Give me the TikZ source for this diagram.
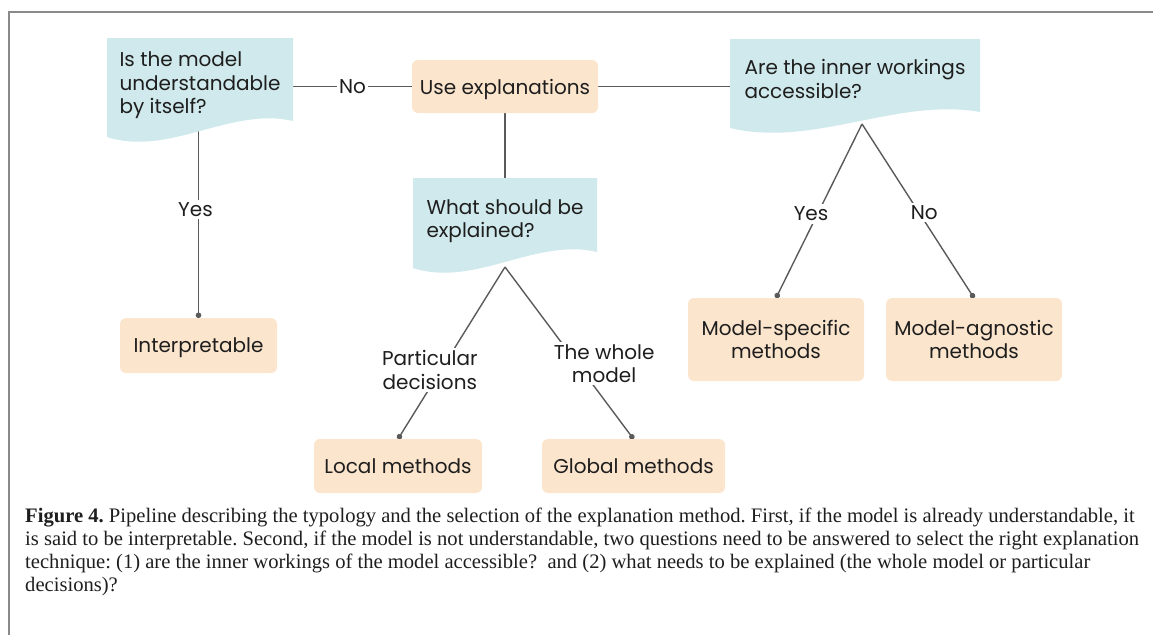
\documentclass[tikz,border=0pt]{standalone}
\usepackage{fontspec}
\setmainfont{Liberation Serif}
\newfontfamily\diagfont{Poppins}
\usetikzlibrary{arrows.meta,calc}
\pgfdeclarelayer{edgelayer}
\pgfdeclarelayer{doclayer}
\pgfsetlayers{edgelayer,doclayer,main}
\definecolor{docblue}{HTML}{D0E9EC}
\definecolor{boxorange}{HTML}{FCE5CD}
\definecolor{linegray}{HTML}{5A5A5A}
\definecolor{inkdark}{HTML}{1E1E1E}
\definecolor{framegray}{HTML}{8A8A8A}

\tikzset{
  diagtext/.style={font=\diagfont\fontsize{20}{23.5}\selectfont, text=inkdark},
  % ignore descenders of the last line when centring box text
  qbox/.style={diagtext, text depth=0pt, align=left, outer sep=0pt, inner sep=0pt},
  ebox/.style={diagtext, text depth=0pt, fill=boxorange, rounded corners=6pt, align=center, outer sep=0pt, inner sep=0pt},
  conn/.style={draw=linegray, line width=1.4pt},
  dotend/.style={-{Circle[length=5.5pt]}},
  lbl/.style={diagtext, fill=white, inner sep=2.5pt, align=center},
  captext/.style={font=\fontsize{20.6}{24}\selectfont\frenchspacing, text=inkdark, anchor=base west, inner sep=0pt},
}

% wavy-bottomed "document" backdrop behind a question node
\newcommand\docback[1]{%
  \begin{pgfonlayer}{doclayer}
    \fill[docblue] let \p1=(#1.north west), \p2=(#1.south east) in
      (\x1,\y1) -- (\x2,\y1) -- (\x2,{\y2+7pt})
      .. controls ({\x1+0.6667*(\x2-\x1)},{\y2+21.67pt}) and ({\x1+0.3333*(\x2-\x1)},{\y2-29pt}) .. (\x1,{\y2-9pt}) -- cycle;
  \end{pgfonlayer}}

\begin{document}
\begin{tikzpicture}[x=1pt,y=-1pt]
  \useasboundingbox (0,0) rectangle (1153,635);

  % outer frame
  \draw[framegray, line width=1.5pt] (9,635) -- (9,12) -- (1153,12);

  % question nodes
  \node[qbox, minimum width=186pt, minimum height=90pt] (q1) at (200,83) {Is the model\\understandable\\by itself?};
  \node[qbox, minimum width=250pt, minimum height=80pt] (q2) at (855,79) {Are the inner workings\\accessible?};
  \node[qbox, minimum width=184pt, minimum height=81pt] (q3) at (505,218.5) {What should be\\explained?};
  \docback{q1}
  \docback{q2}
  \docback{q3}

  % result / action boxes
  \node[ebox, minimum width=186pt, minimum height=53pt] (use) at (505,86.5) {Use explanations};
  \node[ebox, minimum width=157pt, minimum height=55pt] (interp) at (198.5,345.5) {Interpretable};
  \node[ebox, minimum width=168pt, minimum height=54pt] (local) at (398,466) {Local methods};
  \node[ebox, minimum width=183pt, minimum height=54pt] (global) at (633.5,466) {Global methods};
  \node[ebox, minimum width=176pt, minimum height=83pt] (mspec) at (776,339.5) {Model-specific\\methods};
  \node[ebox, minimum width=176pt, minimum height=83pt] (magn) at (974,339.5) {Model-agnostic\\methods};

  % branching points under the wavy shapes
  \coordinate (q3tip) at ([yshift=-8pt]q3.south);
  \coordinate (q2tip) at ([xshift=7pt,yshift=-5pt]q2.south);

  % connectors
  \begin{pgfonlayer}{edgelayer}
    \draw[conn] (use.west -| q1.east) -- node[lbl]{No} (use.west);
    \draw[conn] (use.east) -- (use.east -| q2.west);
    \draw[conn] (use.south) -- (q3.north);
    \draw[conn, dotend] (interp.north |- q1.south) -- node[lbl, pos=0.43, xshift=-3pt]{Yes} (interp.north);
    \draw[conn, dotend] (q3tip) -- node[lbl, pos=0.6, xshift=-11pt]{Particular\\decisions} (local.north);
    \draw[conn, dotend] (q3tip) -- node[lbl, pos=0.561, xshift=27pt]{The whole\\model} (global.north);
    \draw[conn, dotend] (q2tip) -- node[lbl, pos=0.517, xshift=-6.5pt]{Yes} (mspec.north);
    \draw[conn, dotend] (q2tip) -- node[lbl, pos=0.511, xshift=5pt]{No} (magn.north);
  \end{pgfonlayer}

  % caption
  \node[captext] (cap1) at (25,522) {\textbf{Figure 4.} Pipeline describing the typology and the selection of the explanation method. First, if the model is already understandable, it};
  \node[captext] (cap2) at (25,545) {is said to be interpretable. Second, if the model is not understandable, two questions need to be answered to select the right explanation};
  \node[captext] (cap3) at (25,568) {technique: (1) are the inner workings of the model accessible?\ \ and (2) what needs to be explained (the whole model or particular};
  \node[captext] (cap4) at (25,591) {decisions)?};
\end{tikzpicture}
\end{document}
